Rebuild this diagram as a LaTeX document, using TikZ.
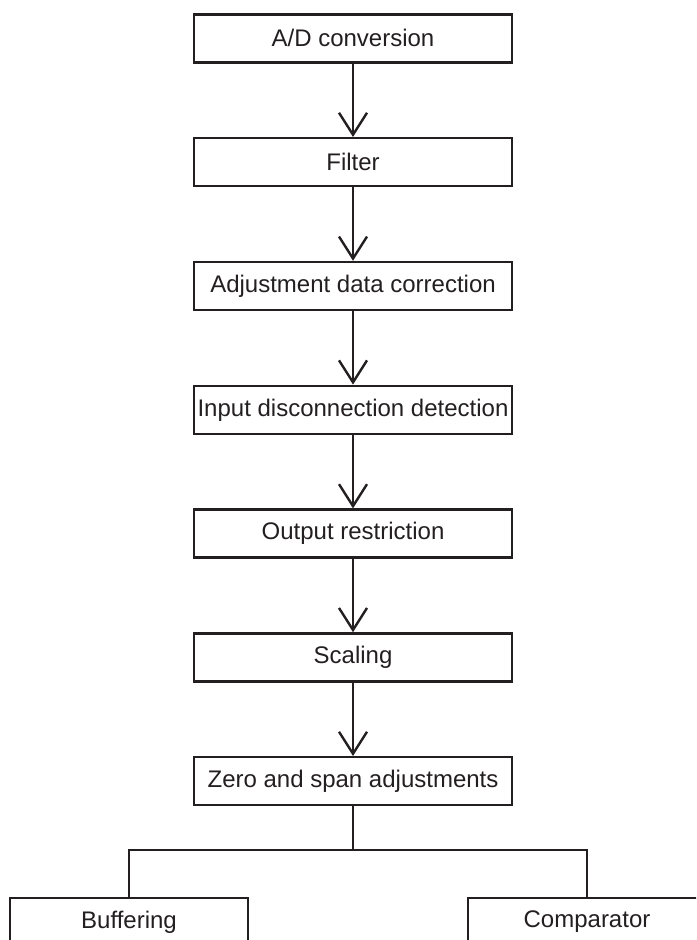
\documentclass[tikz,border=0pt]{standalone}
\usepackage{fontspec}
\setmainfont{Liberation Sans}
\usetikzlibrary{positioning,arrows.meta}
\definecolor{inkdark}{RGB}{35,31,32}

\begin{document}
\begin{tikzpicture}[
          x=1pt,y=1pt,
          node distance=36.7pt and 1cm,
          stagebox/.style={draw=inkdark,text=inkdark,line width=1.2pt,minimum width=159pt,minimum height=24pt,inner sep=0pt,font=\fontsize{12}{14}\selectfont},
          endbox/.style={stagebox,minimum width=119pt},
          flowarrow/.style={draw=inkdark,line width=1.2pt,-{Straight Barb[length=11pt,width=14pt]}},
          branchline/.style={draw=inkdark,line width=1.2pt}
          ]
          \useasboundingbox (0,0) rectangle (348,-470);
          \clip (0,0) rectangle (348,-470);

          \node[stagebox] (ad) at (176.5,-19.2) {A/D conversion};
          \node[stagebox,below=of ad] (filter) {Filter};
          \node[stagebox,below=of filter] (adjust) {Adjustment data correction};
          \node[stagebox,below=of adjust] (disconn) {Input disconnection detection};
          \node[stagebox,below=of disconn] (outlimit) {Output restriction};
          \node[stagebox,below=of outlimit] (scaling) {Scaling};
          \node[stagebox,below=of scaling] (zerospan) {Zero and span adjustments};

          \node[endbox] (buffering) at (64.5,-461) {Buffering};
          \node[endbox] (comparator) at (293.5,-461) {Comparator};

          \path (ad) edge[flowarrow] (filter)
          (filter) edge[flowarrow] (adjust)
          (adjust) edge[flowarrow] (disconn)
          (disconn) edge[flowarrow] (outlimit)
          (outlimit) edge[flowarrow] (scaling)
          (scaling) edge[flowarrow] (zerospan)
          ;

          \coordinate (split) at ([yshift=-21.8pt]zerospan.south);
          \draw[branchline] (zerospan.south) -- (split);
          \draw[branchline] (buffering.north) |- (split) -| (comparator.north);
        \end{tikzpicture}
\end{document}
